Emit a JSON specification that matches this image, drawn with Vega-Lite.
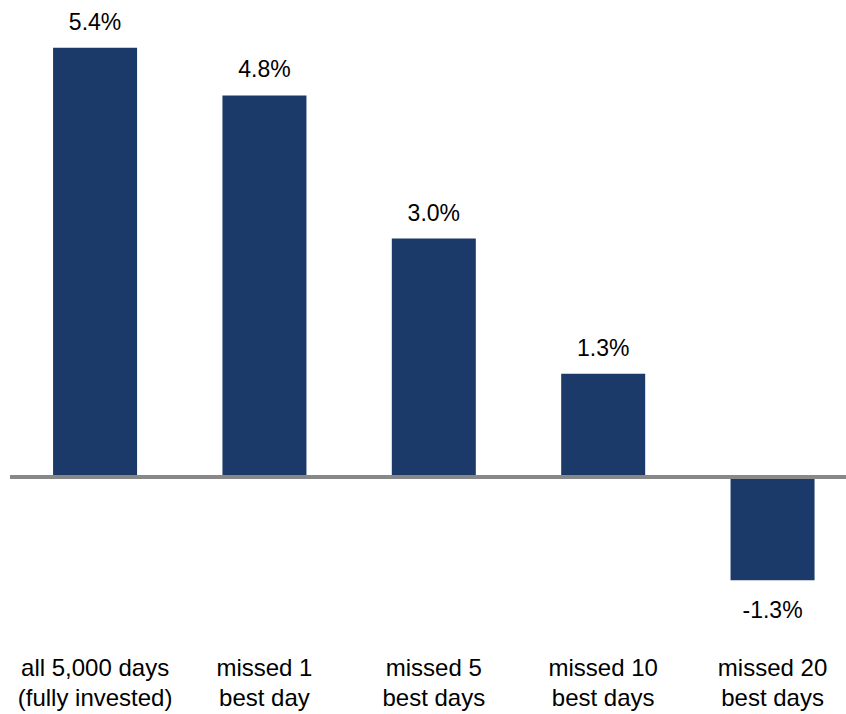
{
  "$schema": "https://vega.github.io/schema/vega-lite/v6.json",
  "width": 836,
  "height": 636,
  "autosize": "none",
  "padding": {"left": 10, "top": 0, "right": 0, "bottom": 78},
  "background": "white",
  "config": {"view": {"stroke": null}, "font": "Liberation Sans"},
  "data": {
    "values": [
      {"cat": "all 5,000 days|(fully invested)", "v": 5.4, "lab": "5.4%"},
      {"cat": "missed 1|best day", "v": 4.8, "lab": "4.8%"},
      {"cat": "missed 5|best days", "v": 3.0, "lab": "3.0%"},
      {"cat": "missed 10|best days", "v": 1.3, "lab": "1.3%"},
      {"cat": "missed 20|best days", "v": -1.3, "lab": "-1.3%"}
    ]
  },
  "encoding": {
    "x": {
      "field": "cat",
      "type": "nominal",
      "sort": null,
      "scale": {"paddingInner": 0.504, "paddingOuter": 0.22, "align": 0.578},
      "axis": {
        "title": null,
        "domain": false,
        "ticks": false,
        "labelAngle": 0,
        "labelFont": "Liberation Sans",
        "labelFontSize": 24,
        "labelLineHeight": 30,
        "labelColor": "#000000",
        "labelPadding": 20,
        "labelExpr": "split(datum.value, '|')"
      }
    },
    "y": {
      "field": "v",
      "type": "quantitative",
      "scale": {"domain": [-2, 6], "nice": false},
      "axis": null
    }
  },
  "layer": [
    {"mark": {"type": "bar", "color": "#1b3a69"}},
    {
      "mark": {"type": "rule", "color": "#888888", "strokeWidth": 4},
      "encoding": {"x": null, "y": {"datum": 0}}
    },
    {
      "transform": [{"filter": "datum.v > 0"}],
      "mark": {"type": "text", "baseline": "alphabetic", "dy": -18, "fontSize": 23, "color": "#000000"},
      "encoding": {"text": {"field": "lab"}}
    },
    {
      "transform": [{"filter": "datum.v < 0"}],
      "mark": {"type": "text", "baseline": "alphabetic", "dy": 38, "fontSize": 23, "color": "#000000"},
      "encoding": {"text": {"field": "lab"}}
    }
  ]
}
